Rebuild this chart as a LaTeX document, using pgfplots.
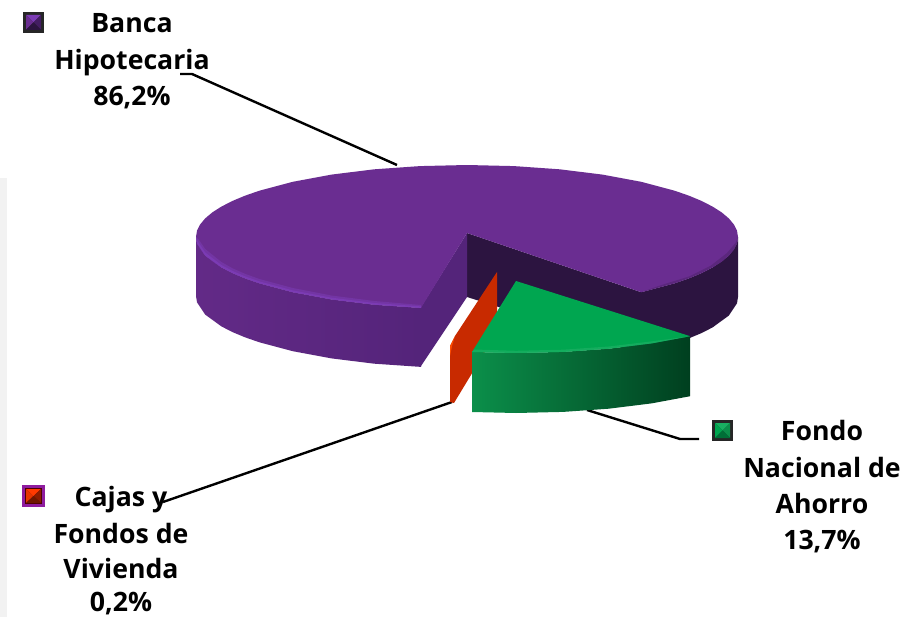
\documentclass[border=0pt]{standalone}
\usepackage{fontspec}
\setmainfont{Open Sans}
\usepackage{pgfplots}
\pgfplotsset{compat=1.18}
\definecolor{purpletop}{HTML}{6A2D91}
\definecolor{purplecut}{HTML}{54247A}
\definecolor{purpledark}{HTML}{2C1440}
\definecolor{purplelight}{HTML}{7B3BB4}
\definecolor{greentop}{HTML}{00A650}
\definecolor{redface}{HTML}{C82A00}
\newcommand{\lbl}[3]{\node[anchor=base,inner sep=0pt,font=\fontsize{20}{24}\selectfont\bfseries] at (axis cs:#1,#2) {#3};}
\begin{document}
\begin{tikzpicture}
\begin{axis}[
    hide axis,
    x=0.75pt, y=0.75pt,
    y dir=reverse,
    xmin=0, xmax=904, ymin=0, ymax=617,
    scale only axis,
]
% page and the grey strip on the left
\addplot[fill=white,draw=none] coordinates {(0,0)(904,0)(904,617)(0,617)} --cycle;
\addplot[fill=black!5,draw=none] coordinates {(0,178)(7,178)(7,617)(0,617)} --cycle;

% leader lines
\addplot[black,line width=1.8pt] coordinates {(180,74)(192,74)(397,165)};
\addplot[black,line width=1.8pt] coordinates {(163,502)(452,402)};
\addplot[black,line width=1.8pt] coordinates {(587,410)(680,439)(699,439)};

% Banca Hipotecaria 86,2: right wall and cut faces
\addplot[fill=purpledark,draw=none] coordinates {
 (738,237)(737,243.3)(728.8,255.6)(712.6,267.4)(701.7,273)(689,278.3)(674.6,283.3)(641.2,292.2)
 (641.2,352.2)(674.6,343.3)(689,338.3)(701.7,333)(712.6,327.4)(728.8,315.6)(737,303.3)(738,297)
} --cycle;
\addplot[fill=purpledark,draw=none] coordinates {(467,233)(641.2,292.2)(641.2,352.2)(467,297)} --cycle;
% front wall
\addplot[draw=none,left color=purpletop!93!black,middle color=purpletop,right color=purplecut] coordinates {
 (196,237)(197,243.3)(205.2,255.6)(221.4,267.4)(232.3,273)(245,278.3)(259.4,283.3)(292.8,292.2)
 (331.5,299.4)(374.3,304.7)(421,307.9)
 (421,366.9)(374.3,363.7)(331.5,358.4)(292.8,351.2)(259.4,342.3)(245,337.3)(232.3,332)(221.4,326.4)(205.2,314.6)(197,302.3)(196,296)
} --cycle;
\addplot[fill=purplecut,draw=none] coordinates {(421,307)(467,233)(467,297)(421,366)} --cycle;
% top face
\addplot[fill=purpletop,draw=none] coordinates {
 (641.2,292.2)(674.6,283.3)(689,278.3)(701.7,273)(712.6,267.4)(721.7,261.6)(728.8,255.6)(733.9,249.5)(737,243.3)(738,237)
 (737,230.7)(733.9,224.5)(728.8,218.4)(721.7,212.4)(712.6,206.6)(701.7,201)(689,195.7)(674.6,190.7)(641.2,181.8)
 (602.5,174.6)(559.7,169.3)(514.1,166.1)(467,165)(419.9,166.1)(374.3,169.3)(331.5,174.6)(292.8,181.8)
 (259.4,190.7)(245,195.7)(232.3,201)(221.4,206.6)(212.3,212.4)(205.2,218.4)(200.1,224.5)(197,230.7)(196,237)
 (197,243.3)(200.1,249.5)(205.2,255.6)(212.3,261.6)(221.4,267.4)(232.3,273)(245,278.3)(259.4,283.3)(292.8,292.2)
 (331.5,299.4)(374.3,304.7)(421,307.9)(467,233)
} --cycle;
% bevel highlights
\addplot[fill=purplelight!55!purpletop,draw=none] coordinates {
 (196,237)(197,243.3)(205.2,255.6)(221.4,267.4)(232.3,273)(245,278.3)(259.4,283.3)(292.8,292.2)
 (331.5,299.4)(374.3,304.7)(421,307.9)(421,305)(374.3,301)(331.5,295.5)(292.8,288)(259.4,279)(245,273.8)(232.3,268.2)
 (221.4,262)(205.2,249)(199,240)
} --cycle;
\addplot[fill=purplelight,draw=none] coordinates {
 (196,237)(197,243.3)(205.2,255.6)(221.4,267.4)(232.3,273)(245,278.3)(259.4,283.3)(292.8,292.2)
 (331.5,299.4)(374.3,304.7)(421,307.9)(421,306.4)(374.3,303)(331.5,297.7)(292.8,290.4)(259.4,281.4)(245,276.3)(232.3,270.8)
 (221.4,265)(205.2,252.5)(197.5,241)
} --cycle;
\addplot[fill=purpletop!75!purpledark,draw=none] coordinates {
 (641.2,292.2)(674.6,283.3)(689,278.3)(701.7,273)(712.6,267.4)(721.7,261.6)(728.8,255.6)(733.9,249.5)(737,243.3)(738,237)
 (735.5,243)(727,253)(711,265.5)(689,276.5)(660,285.5)
} --cycle;

% Cajas y Fondos de Vivienda 0,2
\addplot[fill=redface,draw=none] coordinates {(497,272)(497,332)(454,403)(450,402)(450,346)(455,336)} --cycle;
\addplot[fill=orange!60!red,draw=none] coordinates {(455,336)(450,346)(450,356)(452,346)} --cycle;

% Fondo Nacional de Ahorro 13,7
\definecolor{gwleft}{HTML}{0B8F4A}
\definecolor{gwmid}{HTML}{006F37}
\definecolor{gwright}{HTML}{003F1F}
\addplot[draw=none,left color=gwleft,middle color=gwmid,right color=gwright] coordinates {
 (472,352)(516,353)(563.1,351.9)(608.7,348.7)(651.5,343.4)(690.2,336.2)
 (690.2,396.2)(651.5,403.4)(608.7,408.7)(563.1,411.9)(516,413)(472,412)
} --cycle;
\addplot[fill=greentop,draw=none] coordinates {(516,281)(690.2,336.2)(651.5,343.4)(608.7,348.7)(563.1,351.9)(516,353)(472,352)} --cycle;
\addplot[fill=greentop!92!white,draw=none] coordinates {
 (472,352)(516,353)(563.1,351.9)(608.7,348.7)(651.5,343.4)(690.2,336.2)
 (651.5,341.4)(608.7,346.5)(563.1,349.7)(516,350.8)(474,349.5)
} --cycle;

% legend squares
\addplot[fill=black!85,draw=none] coordinates {(23,12)(44,12)(44,33)(23,33)} --cycle;
\addplot[fill=purplelight,draw=none] coordinates {(26,15)(41,15)(33.5,22.5)} --cycle;
\addplot[fill=purpletop,draw=none] coordinates {(26,15)(33.5,22.5)(26,30)} --cycle;
\addplot[fill=purplecut!80!black,draw=none] coordinates {(41,15)(41,30)(33.5,22.5)} --cycle;
\addplot[fill=purpledark,draw=none] coordinates {(26,30)(41,30)(33.5,22.5)} --cycle;

\addplot[fill=black!85,draw=none] coordinates {(712,420)(733,420)(733,441)(712,441)} --cycle;
\addplot[fill=greentop!90!white,draw=none] coordinates {(715,423)(730,423)(722.5,430.5)} --cycle;
\addplot[fill=greentop,draw=none] coordinates {(715,423)(722.5,430.5)(715,438)} --cycle;
\addplot[fill=gwleft,draw=none] coordinates {(730,423)(730,438)(722.5,430.5)} --cycle;
\addplot[fill=gwmid,draw=none] coordinates {(715,438)(730,438)(722.5,430.5)} --cycle;

\definecolor{redborder}{HTML}{8E1C9E}
\definecolor{redhi}{HTML}{FF3A00}
\addplot[fill=redborder,draw=none] coordinates {(22,485)(45,485)(45,507)(22,507)} --cycle;
\addplot[fill=black!70!red,draw=none] coordinates {(25,488)(42,488)(42,504)(25,504)} --cycle;
\addplot[fill=redhi,draw=none] coordinates {(26,489)(41,489)(33.5,496)} --cycle;
\addplot[fill=redhi!90!black,draw=none] coordinates {(26,489)(33.5,496)(26,503)} --cycle;
\addplot[fill=redface!70!black,draw=none] coordinates {(41,489)(41,503)(33.5,496)} --cycle;
\addplot[fill=redface!55!black,draw=none] coordinates {(26,503)(41,503)(33.5,496)} --cycle;

% labels
\lbl{132}{33}{Banca}
\lbl{132}{70}{Hipotecaria}
\lbl{132}{106}{86,2\%}
\lbl{121}{506}{Cajas y}
\lbl{121}{543}{Fondos de}
\lbl{121}{578}{Vivienda}
\lbl{121}{611}{0,2\%}
\lbl{822}{440}{Fondo}
\lbl{822}{477}{Nacional de}
\lbl{822}{513}{Ahorro}
\lbl{822}{549}{13,7\%}
\end{axis}
\end{tikzpicture}
\end{document}
